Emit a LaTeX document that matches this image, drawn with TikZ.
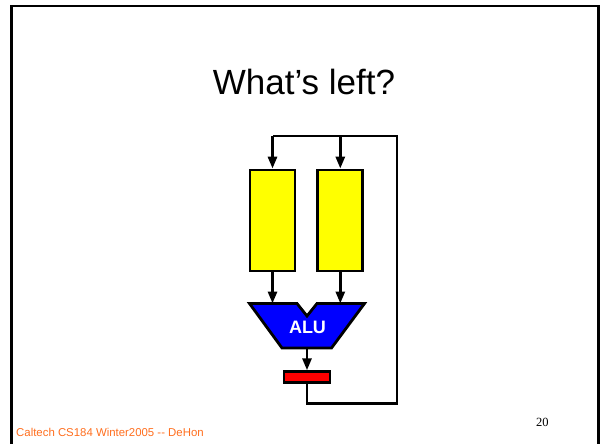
\documentclass[tikz,border=0pt]{standalone}
\usepackage{fontspec}
\setmainfont{Liberation Sans}
\newfontfamily\seriffont{Liberation Serif}
\usetikzlibrary{arrows.meta}
\definecolor{regyellow}{RGB}{255,255,0}
\definecolor{alublue}{RGB}{0,0,255}
\definecolor{regred}{RGB}{255,0,0}
\definecolor{footorange}{RGB}{255,110,30}
\begin{document}
\begin{tikzpicture}[x=1pt,y=-1pt,
  wire/.style={line width=2.8pt,line join=miter},
  arr/.style={wire,-{Triangle[width=9pt,length=12pt]}},
  regbox/.style={draw,line width=2.8pt,fill=regyellow,inner sep=0,minimum width=45pt,minimum height=101pt},
  outreg/.style={draw,line width=2.4pt,fill=regred,inner sep=0,minimum width=46pt,minimum height=11pt},
  frameline/.style={line width=2.5pt,black}]
\useasboundingbox (0,0) rectangle (600,444);
% slide frame
\draw[frameline] (11.5,450) -- (11.5,6) -- (598.5,6) -- (598.5,450);
% title
\node[font=\fontsize{35}{40}\selectfont,anchor=base] (title) at (304,95) {What’s left?};
% registers
\node[regbox] (ra) at (272.5,220.5) {};
\node[regbox] (rb) at (340.3,220.5) {};
% ALU
\draw[line width=2.8pt,line join=miter,fill=alublue] (249.5,303.5) -- (297,303.5) -- (307,316) -- (317,303.5) -- (364.5,303.5) -- (331.5,348) -- (282,348) -- cycle;
\node[text=white,font=\fontsize{18}{20}\selectfont\bfseries] (alu) at (307.5,327.5) {ALU};
\coordinate (aluA) at (272.5,303.5);
\coordinate (aluB) at (340.3,303.5);
\coordinate (aluOut) at (307,348);
% output register
\node[outreg] (rout) at (307,377) {};
% feedback path
\coordinate (botL) at (307,403.5);
\coordinate (botR) at (397,403.5);
\coordinate (topR) at (397,136);
\coordinate (topL) at (272.5,136);
\coordinate (topM) at (340.3,136);
\draw[wire] (rout.south) -- (botL) -- (botR) -- (topR) -- (topL);
\draw[arr] (topL) -- (ra.north);
\draw[arr] (topM) -- (rb.north);
\draw[arr] (ra.south) -- (aluA);
\draw[arr] (rb.south) -- (aluB);
\draw[arr] (aluOut) -- (rout.north);
% footer
\node[anchor=base west,text=footorange,font=\fontsize{11.4}{13}\selectfont,inner sep=0] (foot) at (16,436.5) {Caltech CS184 Winter2005 {-}{-} DeHon};
\node[anchor=base west,font=\seriffont\fontsize{12.5}{14}\selectfont,inner sep=0] (pnum) at (536,426.5) {20};
\end{tikzpicture}
\end{document}
